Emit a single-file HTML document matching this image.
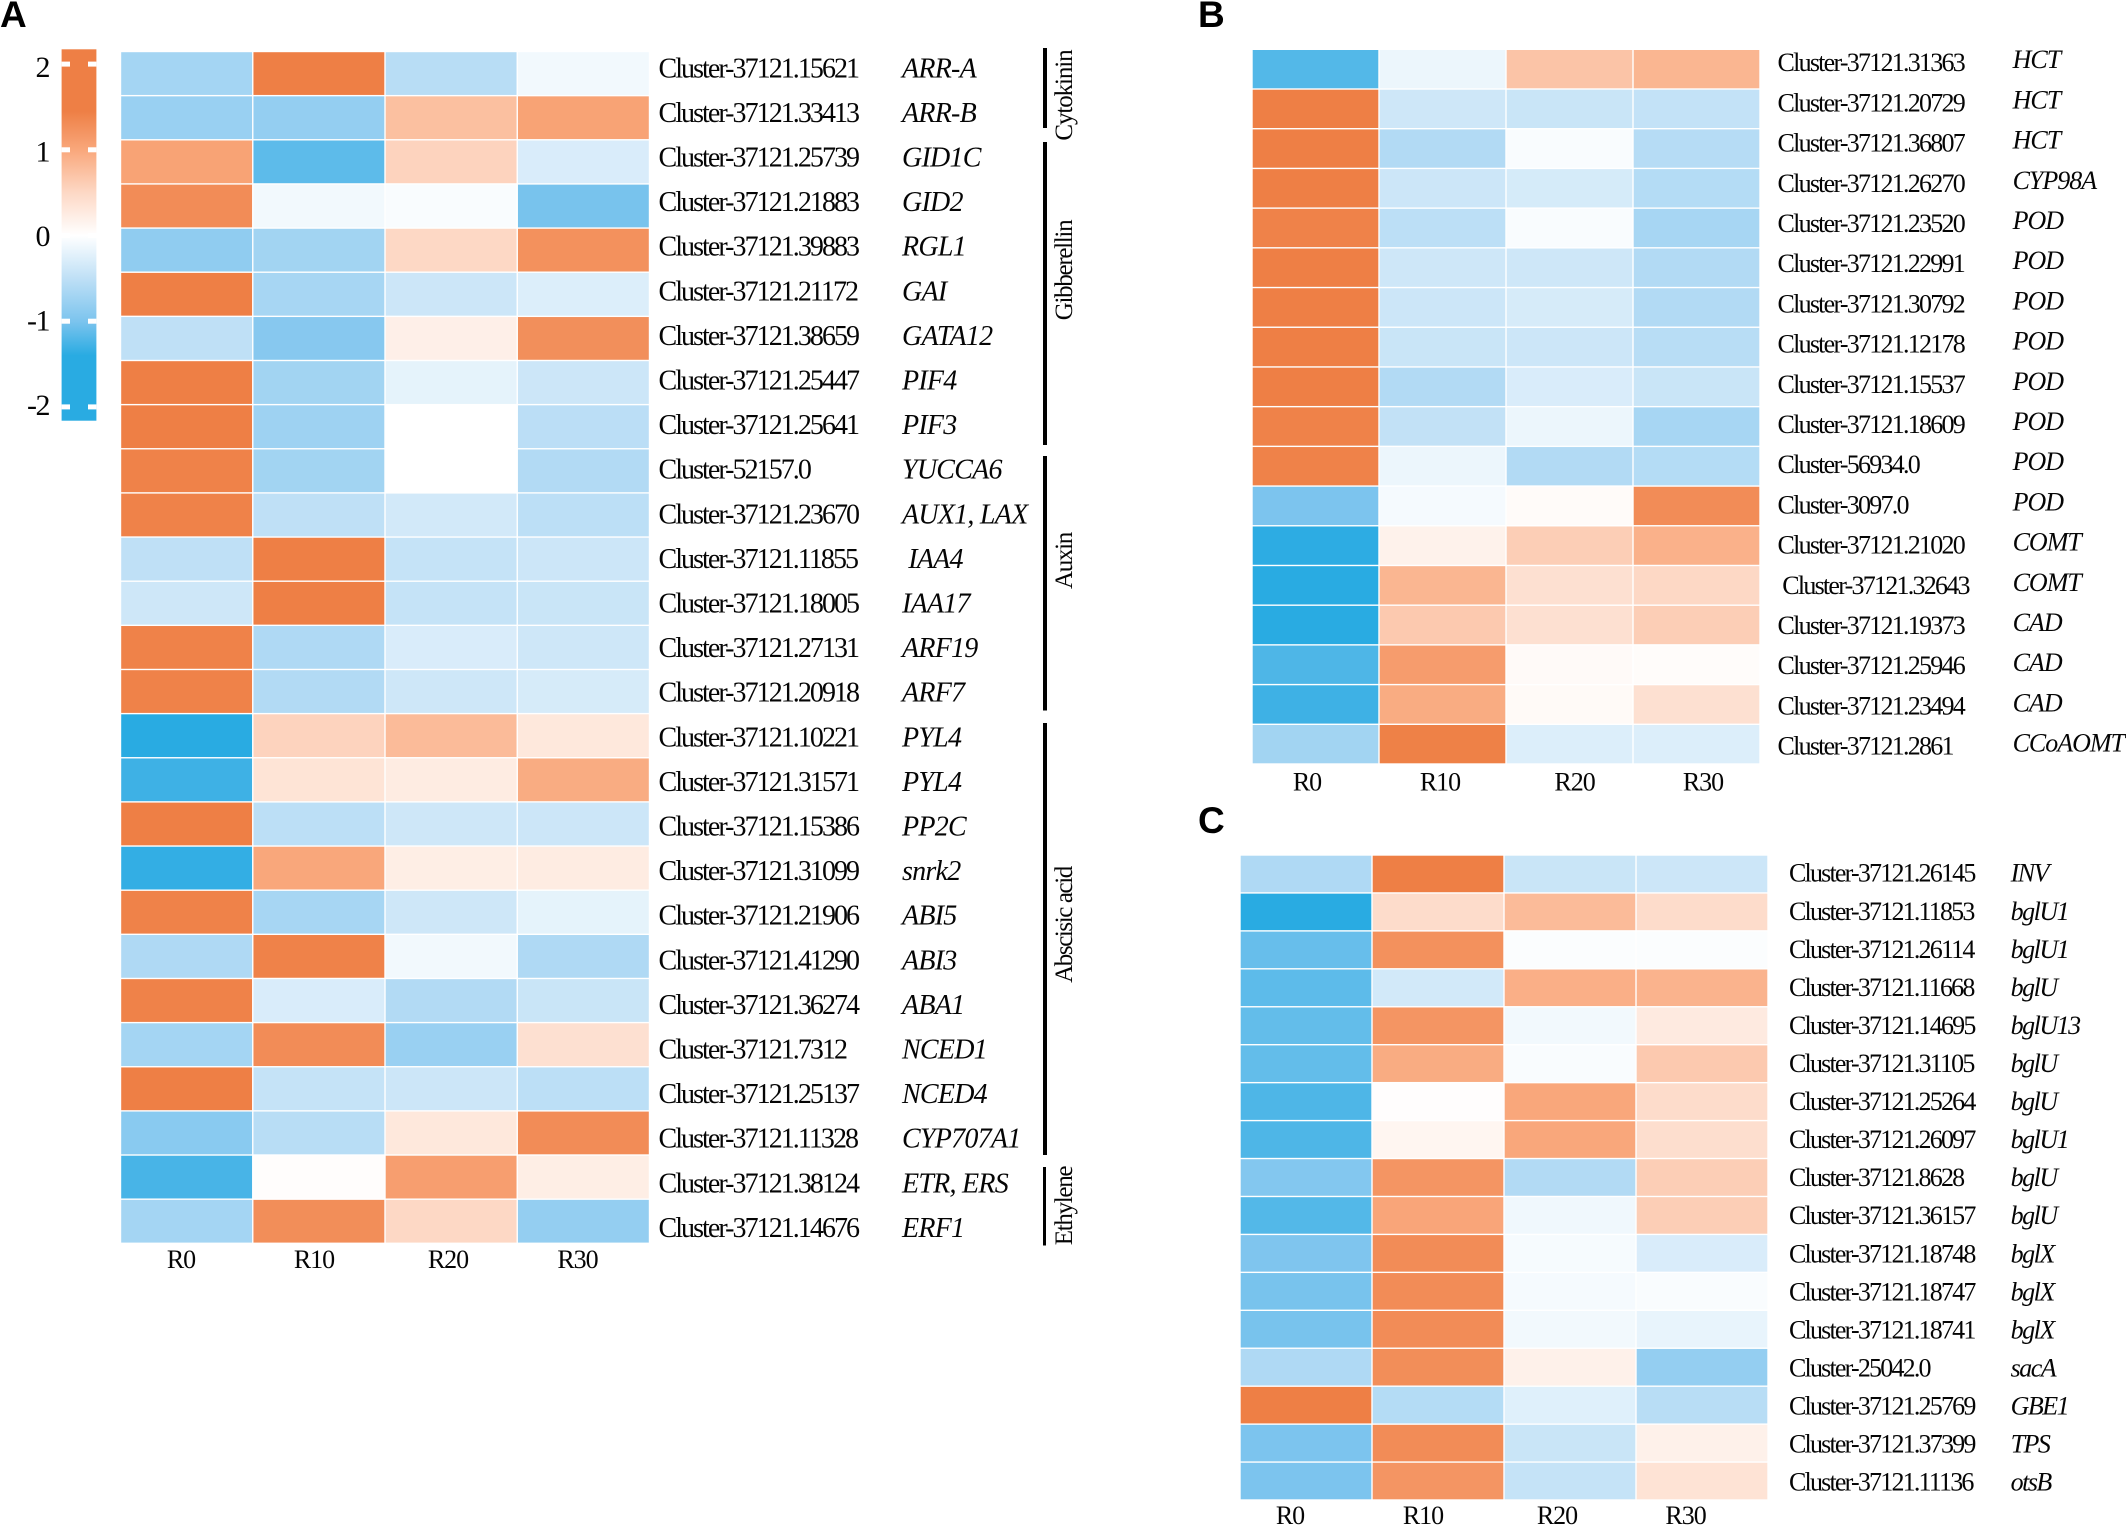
<!DOCTYPE html>
<html lang="en">
<head>
<meta charset="utf-8">
<title>Heatmaps of gene expression</title>
<style>
html,body{margin:0;padding:0;background:#fff;width:2126px;height:1525px;overflow:hidden}
svg{display:block}
text{font-family:"Liberation Serif",serif;fill:#050505;white-space:pre}
.letter{font-family:"Liberation Sans",sans-serif;font-weight:700;fill:#000}
</style>
</head>
<body>
<svg id="figure" xmlns="http://www.w3.org/2000/svg" width="2126" height="1525" viewBox="0 0 2126 1525">
<defs><linearGradient id="scaleGradient" x1="0" y1="1" x2="0" y2="0"></linearGradient></defs>
</svg>
<script>
const timepoints = ['R0', 'R10', 'R20', 'R30'];
const scaleTicks = [2, 1, 0, -1, -2];
const scaleValues = [-1.4, -1.0, -0.5, 0, 0.5, 1.0, 1.45];
const scaleColors = ['#29abe2', '#7cc4ee', '#bfe0f6', '#ffffff', '#fdd8c5', '#f9a77b', '#ee7f45'];

const clustersA = ['Cluster-37121.15621','Cluster-37121.33413','Cluster-37121.25739','Cluster-37121.21883','Cluster-37121.39883','Cluster-37121.21172','Cluster-37121.38659','Cluster-37121.25447','Cluster-37121.25641','Cluster-52157.0','Cluster-37121.23670','Cluster-37121.11855','Cluster-37121.18005','Cluster-37121.27131','Cluster-37121.20918','Cluster-37121.10221','Cluster-37121.31571','Cluster-37121.15386','Cluster-37121.31099','Cluster-37121.21906','Cluster-37121.41290','Cluster-37121.36274','Cluster-37121.7312','Cluster-37121.25137','Cluster-37121.11328','Cluster-37121.38124','Cluster-37121.14676'];
const genesA = ['ARR-A','ARR-B','GID1C','GID2','RGL1','GAI','GATA12','PIF4','PIF3','YUCCA6','AUX1, LAX',' IAA4','IAA17','ARF19','ARF7','PYL4','PYL4','PP2C','snrk2','ABI5','ABI3','ABA1','NCED1','NCED4','CYP707A1','ETR, ERS','ERF1'];
const valuesA = [
[-.7,1.45,-.55,-.1],[-.78,-.82,.75,1.05],[1.05,-1.15,.55,-.3],[1.3,-.1,-.05,-1.02],[-.85,-.72,.5,1.25],
[1.45,-.68,-.4,-.27],[-.5,-.92,.2,1.27],[1.45,-.72,-.2,-.4],[1.45,-.75,0,-.53],[1.42,-.72,0,-.6],
[1.42,-.5,-.35,-.52],[-.5,1.45,-.45,-.4],[-.38,1.45,-.45,-.42],[1.42,-.62,-.3,-.38],[1.42,-.6,-.38,-.32],
[-1.4,.55,.8,.3],[-1.3,.35,.25,.95],[1.45,-.52,-.38,-.4],[-1.35,1.0,.22,.25],[1.42,-.68,-.38,-.2],
[-.62,1.42,-.1,-.62],[1.42,-.3,-.6,-.42],[-.7,1.3,-.78,.4],[1.45,-.45,-.4,-.52],[-.9,-.55,.3,1.3],
[-1.25,.03,1.1,.22],[-.7,1.28,.5,-.82]];

const clustersB = ['Cluster-37121.31363','Cluster-37121.20729','Cluster-37121.36807','Cluster-37121.26270','Cluster-37121.23520','Cluster-37121.22991','Cluster-37121.30792','Cluster-37121.12178','Cluster-37121.15537','Cluster-37121.18609','Cluster-56934.0','Cluster-3097.0','Cluster-37121.21020',' Cluster-37121.32643','Cluster-37121.19373','Cluster-37121.25946','Cluster-37121.23494','Cluster-37121.2861'];
const genesB = ['HCT','HCT','HCT','CYP98A','POD','POD','POD','POD','POD','POD','POD','POD','COMT','COMT','CAD','CAD','CAD','CCoAOMT'];
const valuesB = [
[-1.2,-.15,.7,.85],[1.45,-.38,-.42,-.47],[1.45,-.6,-.05,-.57],[1.45,-.4,-.33,-.58],[1.42,-.52,-.05,-.68],
[1.45,-.38,-.38,-.6],[1.45,-.4,-.32,-.6],[1.45,-.42,-.4,-.55],[1.45,-.6,-.3,-.42],[1.42,-.48,-.15,-.68],
[1.42,-.15,-.6,-.58],[-1.0,-.08,.05,1.3],[-1.38,.17,.6,.9],[-1.4,.85,.4,.5],[-1.4,.65,.4,.6],
[-1.22,1.12,.06,.04],[-1.3,.95,.07,.4],[-.72,1.43,-.27,-.27]];

const clustersC = ['Cluster-37121.26145','Cluster-37121.11853','Cluster-37121.26114','Cluster-37121.11668','Cluster-37121.14695','Cluster-37121.31105','Cluster-37121.25264','Cluster-37121.26097','Cluster-37121.8628','Cluster-37121.36157','Cluster-37121.18748','Cluster-37121.18747','Cluster-37121.18741','Cluster-25042.0','Cluster-37121.25769','Cluster-37121.37399','Cluster-37121.11136'];
const genesC = ['INV','bglU1','bglU1','bglU','bglU13','bglU','bglU','bglU1','bglU','bglU','bglX','bglX','bglX','sacA','GBE1','TPS','otsB'];
const valuesC = [
[-.62,1.45,-.42,-.4],[-1.4,.45,.8,.45],[-1.1,1.25,-.03,-.03],[-1.15,-.35,.92,.88],[-1.12,1.2,-.1,.27],
[-1.12,.95,-.05,.65],[-1.22,.02,1.0,.45],[-1.22,.12,1.0,.42],[-.95,1.2,-.6,.6],[-1.2,1.02,-.12,.6],
[-.98,1.3,-.07,-.3],[-1.02,1.3,-.08,-.05],[-1.02,1.3,-.1,-.18],[-.62,1.28,.18,-.82],[1.45,-.58,-.25,-.55],
[-1.0,1.3,-.42,.18],[-1.0,1.2,-.45,.36]];

const svgNS = 'http://www.w3.org/2000/svg';
const figure = document.getElementById('figure');

function make(tag, attrs, parent, content) {
  const node = document.createElementNS(svgNS, tag);
  Object.keys(attrs).forEach(function (k) { node.setAttribute(k, attrs[k]); });
  if (content !== undefined) node.textContent = content;
  parent.appendChild(node);
  return node;
}
function hexToRgb(h) {
  return [parseInt(h.slice(1, 3), 16), parseInt(h.slice(3, 5), 16), parseInt(h.slice(5, 7), 16)];
}
function colorFor(v) {
  const n = scaleValues.length;
  if (v <= scaleValues[0]) return scaleColors[0];
  if (v >= scaleValues[n - 1]) return scaleColors[n - 1];
  for (let i = 0; i < n - 1; i++) {
    if (v <= scaleValues[i + 1]) {
      const t = (v - scaleValues[i]) / (scaleValues[i + 1] - scaleValues[i]);
      const a = hexToRgb(scaleColors[i]);
      const b = hexToRgb(scaleColors[i + 1]);
      return 'rgb(' + a.map(function (c, j) { return Math.round(c + (b[j] - c) * t); }).join(',') + ')';
    }
  }
  return scaleColors[n - 1];
}

function drawPanel(id, cfg, clusters, genes, values) {
  const group = make('g', {}, figure);
  
  
  const colW = (cfg.right - cfg.left) / timepoints.length;
  const rowH = (cfg.bottom - cfg.top) / values.length;
  const xScale = function (c) { return cfg.left + c * colW; };
  const yScale = function (r) { return cfg.top + r * rowH; };
  const labelY = function (r) { return cfg.labelBase + r * cfg.labelStep; };
  const geneY = function (r) { return cfg.geneBase + r * cfg.labelStep; };

  values.forEach(function (row, r) {
    row.forEach(function (v, c) {
      const cell = make('rect', { x: xScale(c) + 0.7, y: yScale(r) + 0.7, width: colW - 1.4, height: rowH - 1.4, fill: colorFor(v) }, group);
      
      
    });
    const cl = make('text', { x: cfg.clusterX, y: labelY(r), 'font-size': cfg.font, 'letter-spacing': cfg.clusterLs }, group, clusters[r]);
    
    
    const ge = make('text', { x: cfg.geneX, y: geneY(r), 'font-size': cfg.geneFont, 'font-style': 'italic', 'letter-spacing': cfg.geneLs }, group, genes[r]);
    
    
  });
  timepoints.forEach(function (t, c) {
    const lab = make('text', { x: cfg.tickX[c], y: cfg.tickY, 'font-size': cfg.axisFont, 'text-anchor': 'middle', 'letter-spacing': -1 }, group, t);
    
    
  });
}

drawPanel('a', { left: 120.5, right: 649.5, top: 51.5, bottom: 1243.3, clusterX: 658.5, geneX: 902, font: 28, geneFont: 28, clusterLs: -1.95, geneLs: -0.75, labelBase: 77.3, geneBase: 77.3, labelStep: 44.6, axisFont: 26, tickX: [181, 314, 448, 577.5], tickY: 1268 }, clustersA, genesA, valuesA);
drawPanel('b', { left: 1252, right: 1760, top: 49.3, bottom: 764, clusterX: 1777.5, geneX: 2012.6, font: 26, geneFont: 26, clusterLs: -1.75, geneLs: -1, labelBase: 71.2, geneBase: 68.2, labelStep: 40.2, axisFont: 26, tickX: [1307, 1440, 1574.6, 1703], tickY: 790.7 }, clustersB, genesB, valuesB);
drawPanel('c', { left: 1240, right: 1768, top: 855, bottom: 1500, clusterX: 1789, geneX: 2010.6, font: 26, geneFont: 26, clusterLs: -1.8, geneLs: -1.5, labelBase: 881.7, geneBase: 881.7, labelStep: 38.06, axisFont: 26, tickX: [1290, 1423, 1557, 1685.6], tickY: 1524 }, clustersC, genesC, valuesC);

/* colour scale */
const barZero = 235.5;
const barUnit = 85.7;
const barTop = 49.3;
const barBottom = 420.7;
const labelUnit = 84.6;
const barY = function (v) { return barZero - v * barUnit; };
const gradient = document.getElementById('scaleGradient');
scaleValues.forEach(function (v, i) {
  const offset = (barBottom - barY(v)) / (barBottom - barTop);
  make('stop', { offset: offset, 'stop-color': scaleColors[i] }, gradient);
});
const legend = make('g', {}, figure);


const barRect = make('rect', { x: 61.6, y: barTop, width: 34.8, height: barBottom - barTop, fill: 'url(#scaleGradient)' }, legend);


scaleTicks.forEach(function (t) {
  [61.6, 88].forEach(function (x) {
    const dash = make('rect', { x: x, y: barY(t) - 2.5, width: 8.4, height: 5, fill: '#fff' }, legend);
    
    
  });
  const lab = make('text', { x: 49, y: 246 - t * labelUnit, 'font-size': 30, 'text-anchor': 'end', 'letter-spacing': -1.5 }, legend, String(t));
  
  
});

/* hormone brackets */
function bracket(name, top, bottom, width, textCenter, ls) {
  const bar = make('rect', { x: 1043, y: top, width: width, height: bottom - top, fill: '#000' }, figure);
  
  
  const label = make('text', { x: 0, y: 0, 'font-size': 25, 'text-anchor': 'middle', 'letter-spacing': ls, transform: 'translate(1072 ' + textCenter + ') rotate(-90)' }, figure, name);
  
  
}
bracket('Cytokinin', 48, 128, 4, 95.5, -1.1);
bracket('Gibberellin', 142, 445, 4, 270.5, -1.3);
bracket('Auxin', 456, 710.5, 4, 561, -1.3);
bracket('Abscisic acid', 723, 1155, 4, 925, -1.4);
bracket('Ethylene', 1167, 1245.5, 3, 1206, -1.3);

/* panel letters */
[['A', 0, 27, 37], ['B', 1198, 27, 37], ['C', 1198, 833, 37]].forEach(function (p) {
  const letter = make('text', { x: p[1], y: p[2], 'font-size': p[3], class: 'letter' }, figure, p[0]);
  
  
});
</script>
</body>
</html>
